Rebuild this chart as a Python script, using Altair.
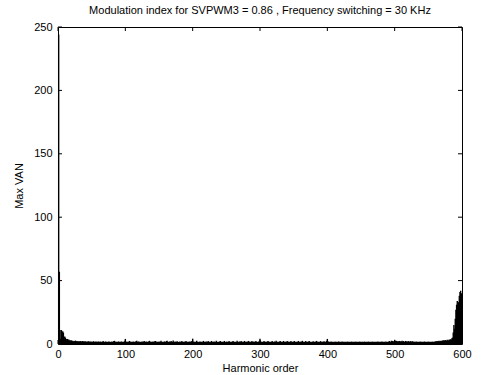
import altair as alt
import pandas as pd

# Harmonic amplitudes (Max VAN)
low_vals = [0, 244, 57, 11, 4, 11, 3, 10, 9, 3, 6, 5, 2.5, 4, 4, 2.5, 3.5, 3, 2, 3,
            2.8, 2.2, 2.6, 2.0, 2.4, 2.2, 2.7, 2.0, 2.3, 2.1, 1.9]  # h 0..30

mid_vals = [
    2.2,1.9,2.4,2.0,1.8,2.3,1.9,2.1,1.7,2.2,1.8,2.0,1.6,1.9,2.1,1.7,1.8,2.0,1.6,1.9,1.7,1.8,2.2,1.6,1.8,
    1.7,1.9,1.5,1.8,2.0,1.6,1.7,1.9,1.5,1.8,1.6,2.3,1.7,1.5,1.8,1.9,1.6,1.7,1.5,1.8,2.0,1.6,1.7,1.5,1.9,
    1.6,1.8,2.4,2.5,1.7,1.5,1.8,1.6,1.7,2.0,1.5,1.8,1.6,1.9,1.7,1.5,1.8,1.6,2.2,4.0,2.0,1.6,1.8,1.5,1.7,
    2.4,1.9,1.6,1.8,1.5,1.7,1.9,1.6,1.8,1.5,2.3,2.5,1.6,1.7,1.9,1.5,1.8,1.6,1.7,2.0,1.5,1.8,2.4,1.6,1.7,
    1.9,1.5,1.8,1.6,2.2,2.5,1.7,1.5,1.8,1.6,1.9,1.7,1.5,2.4,2.3,1.6,1.8,1.7,1.5,1.9,1.6,1.8,2.5,1.7,1.5,
    1.8,1.6,2.0,1.7,1.5,2.3,2.6,1.8,1.6,1.7,1.9,1.5,2.4,1.8,1.6,2.7,1.7,1.5,1.9,1.6,1.8,2.2,1.5,1.7,1.6,
    1.9,1.5,1.8,2.4,1.6,1.7,1.5,1.9,1.6,2.3,1.8,1.5,1.7,1.6,1.9,1.5,1.8,2.2,2.0,4.2,1.9,1.6,1.8,1.5,1.7,
    2.5,1.6,1.8,1.5,1.7,1.9,1.6,1.8,1.5,1.7,2.4,1.6,1.8,1.5,1.9,1.7,1.6,2.3,1.8,1.5,1.7,1.6,2.4,1.8,1.5,
    1.7,1.9,1.6,1.5,2.5,1.8,1.6,1.7,1.5,1.9,2.3,1.6,1.8,1.5,1.7,1.6,2.4,1.8,1.5,1.7,1.9,1.6,1.5,2.3,1.8,
    1.6,1.7,1.5,1.9,2.4,1.6,1.8,1.5,1.7,1.6,2.5,1.8,1.5,1.7,1.9,1.6,2.3,1.5,1.8,1.6,1.7,2.4,1.5,1.8,1.6,
    1.9,1.5,2.4,1.7,1.6,1.8,1.5,2.3,1.7,1.6,1.9,1.5,1.8,2.4,1.6,1.7,1.5,1.9,2.1,4.1,2.0,1.6,1.8,1.5,1.7,
    2.4,1.6,1.8,1.5,1.7,1.9,2.3,1.6,1.8,1.5,1.7,1.6,2.4,1.8,1.5,1.7,1.9,1.6,2.5,1.8,1.5,1.7,1.6,1.9,2.3,
    1.5,1.8,1.6,1.7,2.4,1.5,1.8,1.6,1.9,1.7,2.3,1.5,1.8,1.6,1.7,2.4,1.5,1.8,1.6,1.9,2.3,1.7,1.5,1.8,1.6,
    1.7,2.4,1.5,1.8,1.6,1.9,1.7,2.5,1.5,1.8,1.6,1.7,2.3,1.5,1.8,1.6,1.9,2.4,1.7,1.5,1.8,1.6,1.7,2.2,1.5,
    1.8,1.6,1.9,2.4,1.7,1.5,1.8,1.6,1.7,2.3,1.5,1.8,1.6,1.9,1.7,2.0,1.5,1.8,2.3,4.0,2.1,1.6,1.8,1.5,1.7,
    1.9,1.6,1.8,1.5,1.7,1.6,1.9,1.5,1.8,1.6,1.7,1.9,1.5,1.8,1.6,1.7,1.9,1.5,1.8,1.6,1.7,1.5,1.8,1.6,1.9,
    1.5,1.7,1.6,1.8,1.5,1.9,1.6,1.7,1.5,1.8,1.6,1.9,1.5,1.7,1.6,1.8,1.5,1.9,1.6,1.7,1.5,1.8,1.6,1.7,1.9,
    1.5,1.8,1.6,1.7,1.5,1.9,1.6,1.8,1.5,1.7,1.6,1.9,1.5,1.8,1.6,1.7,1.5,1.8,1.6,1.9,1.5,1.7,1.6,1.8,1.5,
    1.9,1.6,1.7,1.5,1.8,1.6,1.9,1.5,1.7,1.6,1.8,2.3,1.5,1.7,2.5,1.6,2.4,1.8,2.2,3.3,2.4,1.8,2.5,1.6,2.3,
    1.8,2.4,1.6,2.2,1.9,2.5,1.7,2.3,1.6,1.8,2.4,1.5,2.2,1.9,1.7,2.4,1.6,1.8,2.3,1.5,1.9,2.2,1.6,1.8,1.7,
    1.5,1.9,1.6,1.8,1.5,1.7,1.6,1.9,1.5,1.8,1.6,1.7,1.5,1.9,1.6,1.8,1.5,1.7,1.6,1.9,1.5,1.8,1.6,1.7,1.5,
    1.9,1.6,1.8,1.7,2.0,1.9,2.2,1.8,2.3,2.1,2.5,2.0,2.4,2.6,2.2,2.8,2.5,3.0,2.6,3.2,2.8,2.5,3.4,3.0,
]  # h 31..579

high_vals = [2.8, 3.5, 3.0, 3.8, 3.2, 4.5, 5.0, 9.0, 15.0, 12.0, 20.0, 27.0, 31.0,
             34.0, 30.0, 33.0, 38.0, 41.0, 42.0, 40.0, 30.0]  # h 580..600

x_ticks = [0, 100, 200, 300, 400, 500, 600]
y_ticks = [0, 50, 100, 150, 200, 250]

harm = list(range(len(low_vals)))
harm += [31 + i for i in range(len(mid_vals))]
harm += [600 - len(high_vals) + 1 + i for i in range(len(high_vals))]
vals = low_vals + mid_vals + high_vals
df = pd.DataFrame({"h": harm, "v": vals})
df = df[df["h"] <= 600]

W, H = 404, 317
FONT = "Liberation Sans"

xscale = alt.Scale(domain=[0, 600], nice=False, zero=False)
yscale = alt.Scale(domain=[0, 250], nice=False)

bars = alt.Chart(df).mark_rule(color="black", strokeWidth=1.4).encode(
    x=alt.X("h:Q", scale=xscale,
            axis=alt.Axis(values=x_ticks, ticks=False, domain=False, grid=False,
                          labelPadding=4, title="Harmonic order", titlePadding=3,
                          labelFlush=False)),
    y=alt.Y("v:Q", scale=yscale,
            axis=alt.Axis(values=y_ticks, ticks=False, domain=False, grid=False,
                          labelPadding=6, title="Max VAN", titlePadding=9)),
    y2=alt.datum(0),
)

xt = pd.DataFrame({"t": x_ticks})
yt = pd.DataFrame({"t": y_ticks})

xb = alt.Chart(xt).mark_rule(color="black").encode(
    x=alt.X("t:Q", scale=xscale), y=alt.value(H), y2=alt.value(H - 4))
xtp = alt.Chart(xt).mark_rule(color="black").encode(
    x=alt.X("t:Q", scale=xscale), y=alt.value(0), y2=alt.value(4))
yl = alt.Chart(yt).mark_rule(color="black").encode(
    y=alt.Y("t:Q", scale=yscale), x=alt.value(0), x2=alt.value(4))
yr = alt.Chart(yt).mark_rule(color="black").encode(
    y=alt.Y("t:Q", scale=yscale), x=alt.value(W), x2=alt.value(W - 4))

chart = alt.layer(bars, xb, xtp, yl, yr).properties(
    width=W, height=H,
    title=alt.TitleParams(
        "Modulation index for SVPWM3 = 0.86 , Frequency switching = 30 KHz",
        font=FONT, fontSize=11, fontWeight="normal", color="black",
        anchor="middle", offset=5),
    autosize=alt.AutoSizeParams(type="none"),
    padding={"left": 58, "top": 27, "right": 24, "bottom": 31},
    background="white",
).configure_view(stroke="black", strokeWidth=1).configure_axis(
    labelFont=FONT, labelFontSize=11, labelColor="black",
    titleFont=FONT, titleFontSize=11, titleFontWeight="normal", titleColor="black",
)

chart.save("out.html", embed_options={"renderer": "svg", "actions": False})
